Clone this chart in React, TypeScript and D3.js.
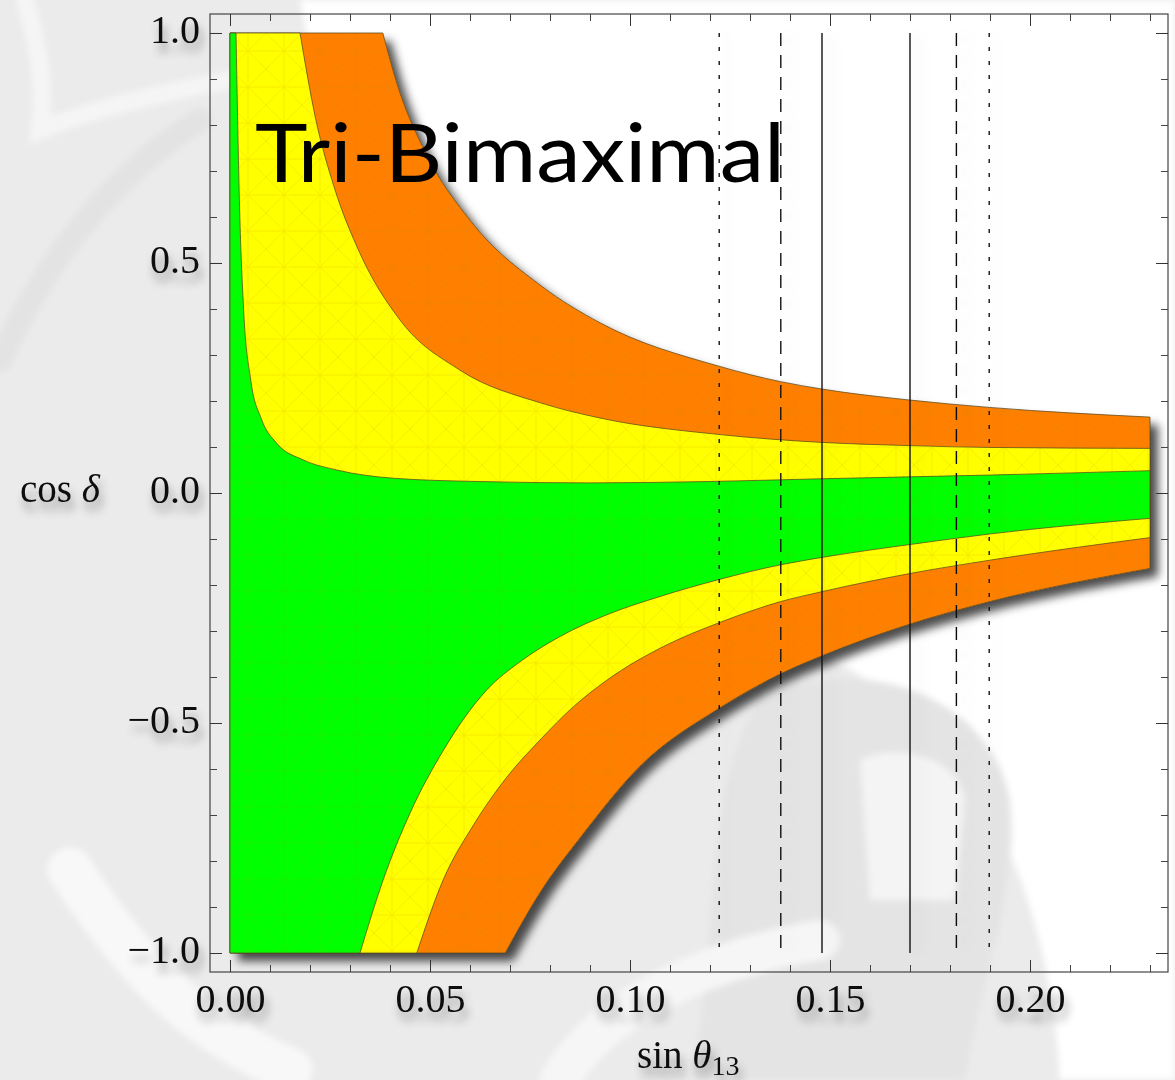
import React, { useRef, useEffect } from 'react';
import * as d3 from 'd3';

// x axis: sin theta13, y axis: cos delta
const sinTicks = [0, 0.05, 0.1, 0.15, 0.2];
const sinTickLabels = ['0.00', '0.05', '0.10', '0.15', '0.20'];
const cosTicks = [-1, -0.5, 0, 0.5, 1];
const cosTickLabels = ['\u22121.0', '\u22120.5', '0.0', '0.5', '1.0'];

// measured sin theta13 ranges (1, 2, 3 sigma)
const sigma1 = [0.148, 0.170];
const sigma2 = [0.1377, 0.1816];
const sigma3 = [0.1223, 0.1898];

// band boundaries, [sin theta13, cos delta]
const greenUpper: [number, number][] = [
  [0.0015, 1], [0.0024, 0.62], [0.0034, 0.4], [0.0052, 0.245], [0.0078, 0.162],
  [0.0117, 0.108], [0.0183, 0.072], [0.0267, 0.05], [0.041, 0.032], [0.062, 0.025],
  [0.09, 0.022], [0.12, 0.025], [0.148, 0.031], [0.19, 0.039], [0.23, 0.0485],
];
const yellowUpper: [number, number][] = [
  [0.0175, 1], [0.0215, 0.81], [0.026, 0.666], [0.0325, 0.521], [0.0425, 0.376],
  [0.0575, 0.267], [0.078, 0.195], [0.0925, 0.163], [0.1225, 0.127], [0.148, 0.11],
  [0.17, 0.103], [0.19, 0.099], [0.23, 0.097],
];
const orangeUpper: [number, number][] = [
  [0.0382, 1], [0.042, 0.883], [0.049, 0.738], [0.06, 0.593], [0.078, 0.449],
  [0.0925, 0.37], [0.1225, 0.275], [0.1377, 0.242], [0.148, 0.226], [0.17, 0.202],
  [0.19, 0.186], [0.23, 0.165],
];
const greenLower: [number, number][] = [
  [0.0325, -1], [0.0383, -0.841], [0.045, -0.696], [0.0533, -0.56], [0.0585, -0.49],
  [0.0642, -0.428], [0.0725, -0.367], [0.0825, -0.312], [0.095, -0.262], [0.1075, -0.225],
  [0.1223, -0.188], [0.1377, -0.156], [0.148, -0.14], [0.17, -0.112], [0.19, -0.089],
  [0.23, -0.055],
];
const yellowLower: [number, number][] = [
  [0.0467, -1], [0.0533, -0.841], [0.061, -0.72], [0.069, -0.62], [0.0775, -0.537],
  [0.0858, -0.465], [0.0942, -0.407], [0.109, -0.331], [0.1223, -0.282], [0.1377, -0.236],
  [0.148, -0.2145], [0.17, -0.175], [0.19, -0.146], [0.23, -0.097],
];
const orangeLower: [number, number][] = [
  [0.0688, -1], [0.078, -0.862], [0.0875, -0.75], [0.1025, -0.594], [0.1223, -0.468],
  [0.1377, -0.393], [0.148, -0.354], [0.17, -0.285], [0.19, -0.236], [0.23, -0.164],
];

const W = 1175;
const H = 1080;
const left = 210, right = 1168, top = 14, bottom = 972;

const x = d3.scaleLinear().domain([-0.005, 0.2345]).range([left, right]);
const y = d3.scaleLinear().domain([-1.0413, 1.0413]).range([bottom, top]);

const curve = d3.line<[number, number]>().curve(d3.curveMonotoneX);
const toPx = (pts: [number, number][]) => pts.map(d => [x(d[0]), y(d[1])] as [number, number]);

// region: left edge at sin = 0, upper boundary, cut at the right, lower boundary back
function regionPath(upper: [number, number][], lower: [number, number][]) {
  const up = curve(toPx(upper))!;
  const lo = curve(toPx(lower).reverse())!;
  return `M${x(0)},${y(1)}L${up.slice(1)}L${lo.slice(1)}L${x(0)},${y(-1)}Z`;
}

const serif = "'Liberation Serif', 'Times New Roman', serif";

const App = () => {
  const axesRef = useRef<SVGGElement>(null);

  useEffect(() => {
    const g = d3.select(axesRef.current);
    g.selectAll('*').remove();
    const minorX = x.ticks(24);
    const minorY = y.ticks(20);

    const sides = [
      { axis: d3.axisBottom(x), pos: `translate(0,${bottom})`, vals: sinTicks, minor: minorX, labels: true },
      { axis: d3.axisTop(x), pos: `translate(0,${top})`, vals: sinTicks, minor: minorX, labels: false },
      { axis: d3.axisLeft(y), pos: `translate(${left},0)`, vals: cosTicks, minor: minorY, labels: true },
      { axis: d3.axisRight(y), pos: `translate(${right},0)`, vals: cosTicks, minor: minorY, labels: false },
    ];

    sides.forEach((s, i) => {
      const isX = i < 2;
      const minorG = g.append('g').attr('transform', s.pos);
      minorG.call(
        s.axis.tickValues(s.minor).tickSize(-7).tickSizeOuter(0).tickFormat(() => '') as any
      );
      minorG.select('.domain').remove();
      minorG.selectAll('line').attr('stroke', '#444');

      const majorG = g.append('g').attr('transform', s.pos);
      const labels = isX ? sinTickLabels : cosTickLabels;
      majorG.call(
        s.axis
          .tickValues(s.vals)
          .tickSize(-12)
          .tickPadding(isX ? 11.6 : 10)
          .tickFormat((d, k) => (s.labels ? labels[k] : '')) as any
      );
      majorG.select('.domain').remove();
      majorG.selectAll('line').attr('stroke', '#333');
      majorG.selectAll('text')
        .attr('font-family', serif)
        .attr('font-size', 40)
        .attr('fill', '#111')
        .attr('filter', 'url(#tshadow)');
      if (!isX) majorG.selectAll('text').attr('dy', '0.23em');
    });
  }, []);

  const vLine = (v: number, dash: string | undefined, key: string) => (
    <line key={key} x1={x(v)} x2={x(v)} y1={y(1)} y2={y(-1)}
      stroke="#111" strokeWidth={1.4} strokeDasharray={dash} />
  );

  const edge = { stroke: '#5a4a20', strokeOpacity: 0.75, strokeWidth: 1 };

  return (
    <svg width={W} height={H} style={{ display: 'block', position: 'absolute', left: 0, top: 0 }}>
      <defs>
        <filter id="tshadow" x="-30%" y="-40%" width="160%" height="200%">
          <feGaussianBlur in="SourceAlpha" stdDeviation="5" result="b" />
          <feOffset in="b" dx="3" dy="9" result="o" />
          <feComponentTransfer in="o" result="s">
            <feFuncA type="linear" slope="0.4" />
          </feComponentTransfer>
          <feMerge>
            <feMergeNode in="s" />
            <feMergeNode in="SourceGraphic" />
          </feMerge>
        </filter>
        <filter id="rshadow" x="-10%" y="-10%" width="130%" height="130%">
          <feDropShadow dx="8" dy="8" stdDeviation="5" floodColor="#000" floodOpacity="0.7" />
        </filter>
        <filter id="lshadow" x="-200%" y="-5%" width="800%" height="110%">
          <feDropShadow dx="8" dy="0" stdDeviation="7" floodColor="#000" floodOpacity="0.12" />
        </filter>
        <filter id="soft">
          <feGaussianBlur stdDeviation="3" />
        </filter>
        <pattern id="mesh" width="36" height="36" patternUnits="userSpaceOnUse" x={x(0)} y={y(1)}>
          <path d="M0,0L36,36M36,0L0,36M18,0V36M0,18H36" stroke="#c08000" strokeWidth="0.8" fill="none" />
        </pattern>
      </defs>

      {/* slide background watermark */}
      <rect x={0} y={0} width={W} height={H} fill="#ebebeb" />
      <g filter="url(#soft)">
        <path d="M300,0 H1175 V1080 H1060 C1050,900 980,700 780,640 C620,600 520,560 440,430 C370,310 330,160 300,0 Z" fill="#ffffff" />
        <path d="M760,700 C850,650 990,690 1010,800 C1020,880 985,960 965,1080 H690 C720,950 700,790 760,700 Z" fill="#e4e4e4" />
        <path d="M860,760 C900,740 960,760 965,800 L955,900 L870,900 Z" fill="#f4f4f4" />
        <path d="M70,870 C130,960 190,1030 290,1070" stroke="#f8f8f8" strokeWidth="45" fill="none" strokeLinecap="round" />
        <path d="M25,0 C40,50 45,90 40,130 C90,110 150,95 230,80" stroke="#f5f5f5" strokeWidth="18" fill="none" strokeLinecap="round" />
        <path d="M0,360 C50,250 120,170 200,120" stroke="#e3e3e3" strokeWidth="24" fill="none" strokeLinecap="round" />
        <path d="M560,1080 C600,1010 700,960 820,940" stroke="#f6f6f6" strokeWidth="40" fill="none" strokeLinecap="round" />
      </g>

      {/* allowed regions */}
      <path d={regionPath(orangeUpper, orangeLower)} fill="#ff8000" filter="url(#rshadow)" />
      <path d={regionPath(orangeUpper, orangeLower)} fill="url(#mesh)" opacity={0.22} />
      <path d={regionPath(orangeUpper, orangeLower)} fill="none" {...edge} />
      <path d={regionPath(yellowUpper, yellowLower)} fill="#ffff00" {...edge} />
      <path d={regionPath(yellowUpper, yellowLower)} fill="url(#mesh)" opacity={0.18} />
      <path d={regionPath(greenUpper, greenLower)} fill="#00ff00" {...edge} />
      <path d={regionPath(greenUpper, greenLower)} fill="url(#mesh)" opacity={0.12} />

      {/* sin theta13 ranges */}
      <g filter="url(#lshadow)">
        {sigma1.map((v, i) => vLine(v, undefined, 's1' + i))}
        {sigma2.map((v, i) => vLine(v, '13 9', 's2' + i))}
        {sigma3.map((v, i) => vLine(v, '4 10', 's3' + i))}
      </g>

      <rect x={left} y={top} width={right - left} height={bottom - top}
        fill="none" stroke="#444" strokeWidth={1.2} />
      <g ref={axesRef} />

      <text x={255} y={182} fontFamily="Lato, 'Open Sans', sans-serif" fontSize={82}
        textLength={530} lengthAdjust="spacingAndGlyphs" fill="#000">Tri-Bimaximal</text>

      <text x={20} y={502} fontFamily={serif} fontSize={39} fill="#111" filter="url(#tshadow)">
        cos <tspan fontStyle="italic">δ</tspan>
      </text>
      <text x={637} y={1068} fontFamily={serif} fontSize={39} fill="#111" filter="url(#tshadow)">
        sin <tspan fontStyle="italic">θ</tspan><tspan fontSize={28} dy={7}>13</tspan>
      </text>
    </svg>
  );
};

export default App;
